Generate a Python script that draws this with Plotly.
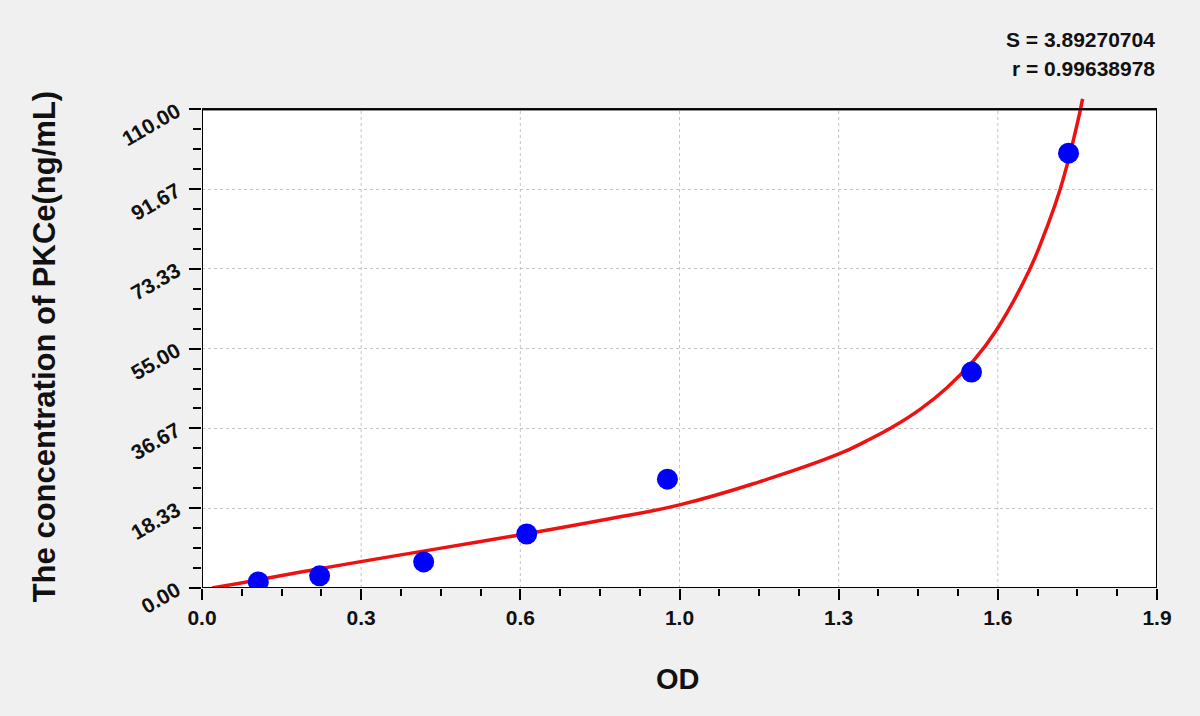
import plotly.graph_objects as go

# measured standard points (OD vs concentration)
od = [0.112, 0.234, 0.441, 0.646, 0.926, 1.531, 1.724]
conc = [1.4, 2.8, 6.0, 12.4, 25.0, 49.6, 99.9]

# fitted curve
curve_od = [0.02, 0.075, 0.194, 0.313, 0.473, 0.632, 0.80, 0.95, 1.109, 1.267, 1.322,
            1.374, 1.428, 1.481, 1.533, 1.579, 1.645, 1.678, 1.7075, 1.738, 1.752]
curve_conc = [0.0, 1.1, 3.6, 6.0, 9.1, 12.2, 15.7, 19.1, 24.4, 30.8, 33.8,
              37.0, 41.0, 45.9, 52.0, 59.0, 72.8, 82.0, 91.67, 105.0, 112.4]

x_ticks = [0, 1.9 / 6, 2 * 1.9 / 6, 3 * 1.9 / 6, 4 * 1.9 / 6, 5 * 1.9 / 6, 1.9]
x_labels = ['0.0', '0.3', '0.6', '1.0', '1.3', '1.6', '1.9']
y_ticks = [0, 110 / 6, 2 * 110 / 6, 3 * 110 / 6, 4 * 110 / 6, 5 * 110 / 6, 110]
y_labels = ['0.00', '18.33', '36.67', '55.00', '73.33', '91.67', '110.00']

S_value = '3.89270704'
r_value = '0.99638978'

BG = '#f0f0f0'
FONT = 'Liberation Sans, Arial, sans-serif'

fig = go.Figure()

fig.add_trace(go.Scatter(
    x=curve_od, y=curve_conc,
    mode='lines',
    line=dict(color='#ee1111', width=3.5, shape='spline', smoothing=1.3),
    showlegend=False
))

fig.add_trace(go.Scatter(
    x=od, y=conc,
    mode='markers',
    marker=dict(color='#0000ff', size=21),
    showlegend=False
))

# white plot box with frame (drawn as shape so the curve can run past the top)
shapes = [dict(type='rect', xref='x', yref='y', x0=0, x1=1.9, y0=0, y1=110,
               fillcolor='white', line=dict(color='black', width=2), layer='below')]
# vertical gridlines only inside the box
for xv in x_ticks[1:-1]:
    shapes.append(dict(type='line', xref='x', yref='y', x0=xv, x1=xv, y0=0, y1=110,
                       line=dict(color='#c4c4c4', width=1, dash='dot'), layer='below'))
# frame on top of traces
shapes.append(dict(type='rect', xref='x', yref='y', x0=0, x1=1.9, y0=0, y1=110,
                   line=dict(color='black', width=2), layer='above'))

fig.update_layout(
    width=1200, height=716,
    paper_bgcolor=BG, plot_bgcolor=BG,
    margin=dict(l=202, r=43, t=94, b=128),
    font=dict(family=FONT, color='#111111'),
    shapes=shapes,
    xaxis=dict(
        range=[0, 1.9],
        tickmode='array', tickvals=x_ticks,
        ticktext=['<b>%s</b>' % t for t in x_labels],
        tickfont=dict(size=21),
        ticks='outside', ticklen=11, tickwidth=2, tickcolor='black',
        minor=dict(dtick=1.9 / 24, tick0=0, ticks='outside', ticklen=7,
                   tickwidth=2, tickcolor='black', showgrid=False),
        showgrid=False, zeroline=False, showline=False,
    ),
    yaxis=dict(
        range=[0, 113.5],
        tickmode='array', tickvals=y_ticks,
        ticktext=['<b>%s</b>' % t for t in y_labels],
        tickfont=dict(size=21), tickangle=-30, ticklabelstandoff=8,
        ticks='outside', ticklen=12, tickwidth=2, tickcolor='black',
        minor=dict(dtick=110 / 24, tick0=0, ticks='outside', ticklen=8,
                   tickwidth=2, tickcolor='black', showgrid=False),
        showgrid=True, gridcolor='#c4c4c4', griddash='dot', gridwidth=1,
        zeroline=False, showline=False,
    ),
    annotations=[
        dict(text='<b>OD</b>', xref='paper', yref='paper', x=0.498, y=-0.184,
             xanchor='center', yanchor='middle', showarrow=False, font=dict(size=29)),
        dict(text='<b>The concentration of PKCe(ng/mL)</b>', xref='paper', yref='paper',
             x=-0.164, y=0.49, xanchor='center', yanchor='middle', textangle=-90,
             showarrow=False, font=dict(size=31)),
        dict(text='<b>S = %s</b>' % S_value, xref='paper', yref='paper', x=1.0, y=1.111,
             xanchor='right', yanchor='middle', showarrow=False, font=dict(size=21)),
        dict(text='<b>r = %s</b>' % r_value, xref='paper', yref='paper', x=1.0, y=1.052,
             xanchor='right', yanchor='middle', showarrow=False, font=dict(size=21)),
    ],
)

fig.write_html("out.html", config={'displayModeBar': False},
               post_script="document.body.style.margin='0';")
